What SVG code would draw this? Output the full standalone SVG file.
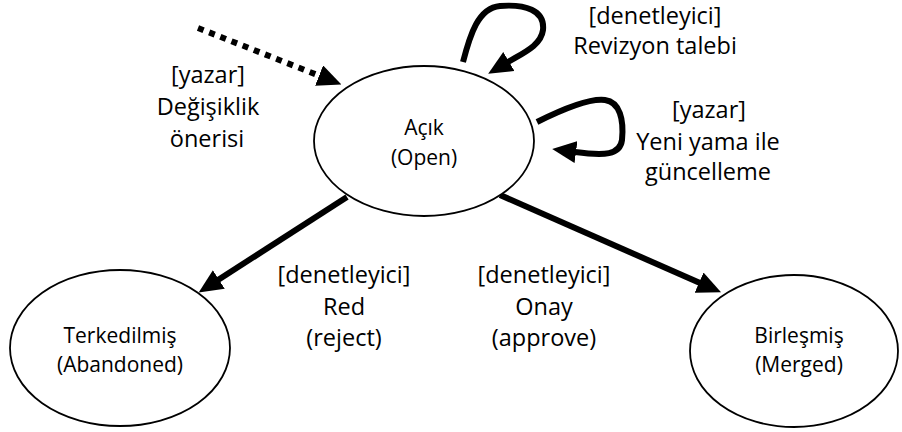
<svg xmlns="http://www.w3.org/2000/svg" width="902" height="432" viewBox="0 0 902 432">
  <defs>
    <marker id="ah" viewBox="0 0 24 22" refX="1" refY="11" markerWidth="24" markerHeight="22" markerUnits="userSpaceOnUse" orient="auto">
      <path d="M0,0 L24,11 L0,22 Z" fill="#000"/>
    </marker>
  </defs>
  <style>
    .node ellipse { fill: #fff; stroke: #000; stroke-width: 1.8; }
    .nt { font-family: "Open Sans", "Noto Sans", sans-serif; font-size: 21px; fill: #000; text-anchor: middle; }
    .lbl { font-family: "Open Sans", "Noto Sans", sans-serif; font-size: 23.5px; fill: #000; text-anchor: middle; }
    .edge { fill: none; stroke: #000; stroke-width: 6; marker-end: url(#ah); }
    .dotted { stroke-dasharray: 6 6; }
  </style>
  <rect width="902" height="432" fill="#fff"/>

  <g id="edges">
    <path class="edge dotted" d="M198,28 L320,76"/>
    <path class="edge" d="M463,62 C470,35 478,8 500,6 C525,4 545,10 543,30 C541,45 525,52 508,62"/>
    <path class="edge" d="M537,122 C565,108 590,98 605,100 C620,102 624,120 622,140 C620,155 605,156 575,152"/>
    <path class="edge" d="M347,197 L218,280"/>
    <path class="edge" d="M500,195 L700,283"/>
  </g>

  <g id="open" class="node">
    <ellipse cx="424" cy="141" rx="110" ry="75"/>
    <text class="nt" x="424" y="135">Açık</text>
    <text class="nt" x="424" y="165">(Open)</text>
  </g>
  <g id="abandoned" class="node">
    <ellipse cx="120" cy="348" rx="110" ry="78"/>
    <text class="nt" x="120" y="343">Terkedilmiş</text>
    <text class="nt" x="120" y="372">(Abandoned)</text>
  </g>
  <g id="merged" class="node">
    <ellipse cx="794" cy="351" rx="104" ry="76"/>
    <text class="nt" x="799" y="343">Birleşmiş</text>
    <text class="nt" x="799" y="372">(Merged)</text>
  </g>

  <g id="labels">
    <text class="lbl" x="208" y="83">[yazar]</text>
    <text class="lbl" x="208" y="115">Değişiklik</text>
    <text class="lbl" x="207" y="147">önerisi</text>

    <text class="lbl" x="655" y="24">[denetleyici]</text>
    <text class="lbl" x="655" y="54">Revizyon talebi</text>

    <text class="lbl" x="709" y="118">[yazar]</text>
    <text class="lbl" x="708" y="150">Yeni yama ile</text>
    <text class="lbl" x="708" y="180">güncelleme</text>

    <text class="lbl" x="344" y="283">[denetleyici]</text>
    <text class="lbl" x="344" y="315">Red</text>
    <text class="lbl" x="344" y="346">(reject)</text>

    <text class="lbl" x="544" y="283">[denetleyici]</text>
    <text class="lbl" x="544" y="315">Onay</text>
    <text class="lbl" x="544" y="346">(approve)</text>
  </g>
</svg>
